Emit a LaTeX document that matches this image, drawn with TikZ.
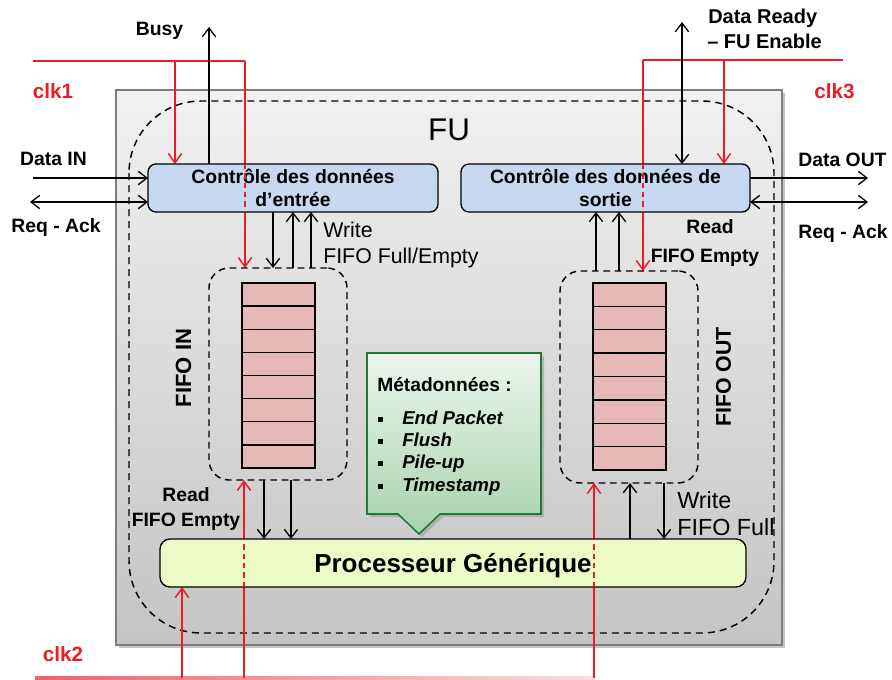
\documentclass[tikz,border=0pt]{standalone}
\usepackage{fontspec}
\setmainfont{Liberation Sans}
\usetikzlibrary{arrows.meta}
\definecolor{clkred}{RGB}{237,28,36}
\definecolor{boxblue}{RGB}{198,217,241}
\definecolor{procgreen}{RGB}{236,250,198}
\definecolor{fifopink}{RGB}{230,185,184}
\definecolor{callgreen}{RGB}{31,122,53}
\definecolor{calltop}{RGB}{236,246,237}
\definecolor{callbot}{RGB}{166,211,175}
\definecolor{fugreytop}{RGB}{241,241,241}
\definecolor{fugreybot}{RGB}{196,196,196}
\definecolor{fuborder}{RGB}{125,125,125}
\pgfdeclarelayer{bg}
\pgfdeclarelayer{wires}
\pgfsetlayers{bg,wires,main}
\begin{document}
\begin{tikzpicture}[x=0.75pt,y=-0.75pt,
  arr/.style={draw=black, line width=1pt, -{Straight Barb[length=6.5pt,width=10pt]}},
  darr/.style={draw=black, line width=1pt, {Straight Barb[length=6.5pt,width=10pt]}-{Straight Barb[length=6.5pt,width=10pt]}},
  rline/.style={draw=clkred, line width=1.1pt},
  rarr/.style={rline, -{Straight Barb[length=7pt,width=10pt]}},
  rdash/.style={rline, dash pattern=on 4pt off 3pt},
  dbox/.style={draw=black, line width=1.1pt, dash pattern=on 5pt off 3.5pt, inner sep=0pt, outer sep=0pt, rounded corners=15pt, minimum width=103.5pt, minimum height=159pt},
  ctl/.style={draw=black, line width=1pt, fill=boxblue, rounded corners=6pt, inner sep=0pt, outer sep=0pt, minimum height=36pt, align=center, font=\fontsize{14.5}{17.25}\selectfont\bfseries},
  lbl/.style={inner sep=0pt, anchor=base, font=\fontsize{14.5}{17}\selectfont\bfseries},
  lblw/.style={inner sep=0pt, anchor=base west, font=\fontsize{15}{18}\selectfont\bfseries},
  regw/.style={inner sep=0pt, anchor=base west, font=\fontsize{16}{19}\selectfont},
  clk/.style={inner sep=0pt, anchor=base, text=clkred, font=\fontsize{15.5}{18}\selectfont\bfseries},
  cell/.style={draw=black, line width=1pt, fill=fifopink},
  meta/.style={inner sep=0pt, anchor=base west, font=\fontsize{14}{17}\selectfont\bfseries\itshape},
]
\useasboundingbox (0,0) rectangle (892,679);

% ---------- FU background ----------
\begin{pgfonlayer}{bg}
  \fill[black!45, opacity=0.5] (119,93) rectangle (785,648);
  \path[draw=fuborder, line width=1.5pt, top color=fugreytop, bottom color=fugreybot] (116,90) rectangle (782,645);
  \draw[line width=1.1pt, dash pattern=on 5.25pt off 3.75pt, rounded corners=54pt] (129,101) rectangle (774,633);
\end{pgfonlayer}
\node[inner sep=0pt, anchor=base, font=\fontsize{23.5}{28}\selectfont] (fu) at (449,140) {FU};

% ---------- blocks ----------
\node[ctl, minimum width=217.5pt] (inbox) at (293,188) {Contrôle des données\\d’entrée};
\node[ctl, minimum width=216.75pt] (outbox) at (605.5,188) {Contrôle des données de\\sortie};
\node[draw=black, line width=1pt, fill=procgreen, rounded corners=7.5pt, inner sep=0pt, outer sep=0pt,
      minimum width=439.5pt, minimum height=36pt, text depth=0pt,
      font=\fontsize{19.5}{23}\selectfont\bfseries] (proc) at (453,563) {Processeur Générique};

\node[dbox] (fifoin) at (278,374) {};
\node[dbox] (fifoout) at (629,377) {};
\foreach \i in {0,...,7} {
  \draw[cell] (242,{283+\i*23.125}) rectangle (315,{283+(\i+1)*23.125});
  \draw[cell] (593,{283+\i*23.375}) rectangle (666,{283+(\i+1)*23.375});
}
\node[inner sep=0pt, rotate=90, font=\fontsize{16.5}{19}\selectfont\bfseries] (fifoinlbl) at (183.5,368) {FIFO IN};
\node[inner sep=0pt, rotate=90, font=\fontsize{16}{19}\selectfont\bfseries] (fifooutlbl) at (723.5,377) {FIFO OUT};

% ---------- callout ----------
\fill[black!45, opacity=0.45] (370,356) -- (544,356) -- (544,517) -- (443,517) -- (422,537) -- (401,517) -- (370,517) -- cycle;
\path[draw=callgreen, line width=1.2pt, top color=calltop, bottom color=callbot]
  (367,353) -- (541,353) -- (541,514) -- (440,514) -- (419,534) -- (398,514) -- (367,514) -- cycle;
\node[inner sep=0pt, anchor=base west, font=\fontsize{14.4}{17}\selectfont\bfseries] (meta0) at (377,391) {Métadonnées :};
\node[meta] (meta1) at (378,424) {\rule[1.5pt]{3.75pt}{3.75pt}\hspace{14.25pt}End Packet};
\node[meta] (meta2) at (378,446) {\rule[1.5pt]{3.75pt}{3.75pt}\hspace{14.25pt}Flush};
\node[meta] (meta3) at (378,468) {\rule[1.5pt]{3.75pt}{3.75pt}\hspace{14.25pt}Pile-up};
\node[meta] (meta4) at (378,491) {\rule[1.5pt]{3.75pt}{3.75pt}\hspace{14.25pt}Timestamp};

% ---------- coordinates ----------
\coordinate (c1L) at (33,61);  \coordinate (c1a) at (175,61);  \coordinate (c1R) at (245,61);
\coordinate (c3R) at (843,60); \coordinate (c3a) at (724,60);  \coordinate (c3L) at (643,60);
\coordinate (c2L) at (35,678); \coordinate (c2R) at (595,678);
\coordinate (p1) at (182,678); \coordinate (p2) at (244,678);  \coordinate (p3) at (594,678);
\coordinate (busyT) at (209,27);
\coordinate (dinL) at (33,178); \coordinate (raL) at (30,202);
\coordinate (drT) at (682,22);
\coordinate (dOut) at (868,178); \coordinate (raR) at (868,202);
\coordinate (w1) at (273,240); \coordinate (w2) at (293,240); \coordinate (w3) at (311,240);
\coordinate (r1) at (596,240); \coordinate (r2) at (619,240);
\coordinate (a1) at (264,510); \coordinate (a2) at (291,510);
\coordinate (b1) at (630,510); \coordinate (b2) at (664,510);

% ---------- clocks (under blocks) ----------
\begin{pgfonlayer}{wires}
  \draw[rline] (c1L) -- (c1R);
  \draw[rarr] (c1a) -- (inbox.north -| c1a);
  \draw[rarr] (c1R) -- (fifoin.north -| c1R);
  \draw[rline] (c3R) -- (c3L);
  \draw[rarr] (c3a) -- (outbox.north -| c3a);
  \draw[rarr] (c3L) -- (fifoout.north -| c3L);
  \shade[left color=clkred!70, right color=clkred!15] (35,676.6) rectangle (595,679);
  \draw[rarr] (p1) -- (proc.south -| p1);
  \draw[rarr] (p2) -- (fifoin.south -| p2);
  \draw[rarr] (p3) -- (fifoout.south -| p3);
\end{pgfonlayer}
\draw[rdash] (inbox.north -| c1R) -- (inbox.south -| c1R);
\draw[rdash] (outbox.north -| c3L) -- (outbox.south -| c3L);
\draw[rdash] (proc.south -| p2) -- (proc.north -| p2);
\draw[rdash] (proc.south -| p3) -- (proc.north -| p3);

% ---------- data connectors ----------
\draw[arr] (inbox.north -| busyT) -- (busyT);
\draw[arr] (dinL) -- (inbox.west |- dinL);
\draw[darr] (raL) -- (inbox.west |- raL);
\draw[arr] (inbox.south -| w1) -- (fifoin.north -| w1);
\draw[arr] (fifoin.north -| w2) -- (inbox.south -| w2);
\draw[arr] (fifoin.north -| w3) -- (inbox.south -| w3);

\draw[darr] (drT) -- (outbox.north -| drT);
\draw[arr] (outbox.east |- dOut) -- (dOut);
\draw[darr] (outbox.east |- raR) -- (raR);
\draw[arr] (fifoout.north -| r1) -- (outbox.south -| r1);
\draw[arr] (fifoout.north -| r2) -- (outbox.south -| r2);

\draw[arr] (fifoin.south -| a1) -- (proc.north -| a1);
\draw[arr] (fifoin.south -| a2) -- (proc.north -| a2);
\draw[arr] (proc.north -| b1) -- (fifoout.south -| b1);
\draw[arr] (fifoout.south -| b2) -- (proc.north -| b2);

% ---------- labels ----------
\node[lbl] (lbusy) at (159.5,35) {Busy};
\node[lbl] (ldin) at (53.5,165) {Data IN};
\node[lbl] (lral) at (56,232) {Req - Ack};
\node[clk] (lclk1) at (53,98) {clk1};
\node[clk] (lclk3) at (834.5,98) {clk3};
\node[clk] (lclk2) at (63,661) {clk2};
\node[lblw] (ldr1) at (708,23) {Data Ready};
\node[lblw] (ldr2) at (707,48) {– FU Enable};
\node[lbl] (ldout) at (842.5,166) {Data OUT};
\node[lbl] (lrar) at (843,238) {Req - Ack};
\node[regw] (lw1) at (323,237) {Write};
\node[regw] (lw2) at (323,263) {FIFO Full/Empty};
\node[lbl] (lr1) at (710,233) {Read};
\node[lbl] (lr2) at (705,262) {FIFO Empty};
\node[lbl] (lr3) at (186,501) {Read};
\node[lbl] (lr4) at (186,526) {FIFO Empty};
\node[regw, font=\fontsize{17.5}{20}\selectfont] (lw3) at (677,508) {Write};
\node[regw, font=\fontsize{17.5}{20}\selectfont] (lw4) at (677,535) {FIFO Full};
\end{tikzpicture}
\end{document}
